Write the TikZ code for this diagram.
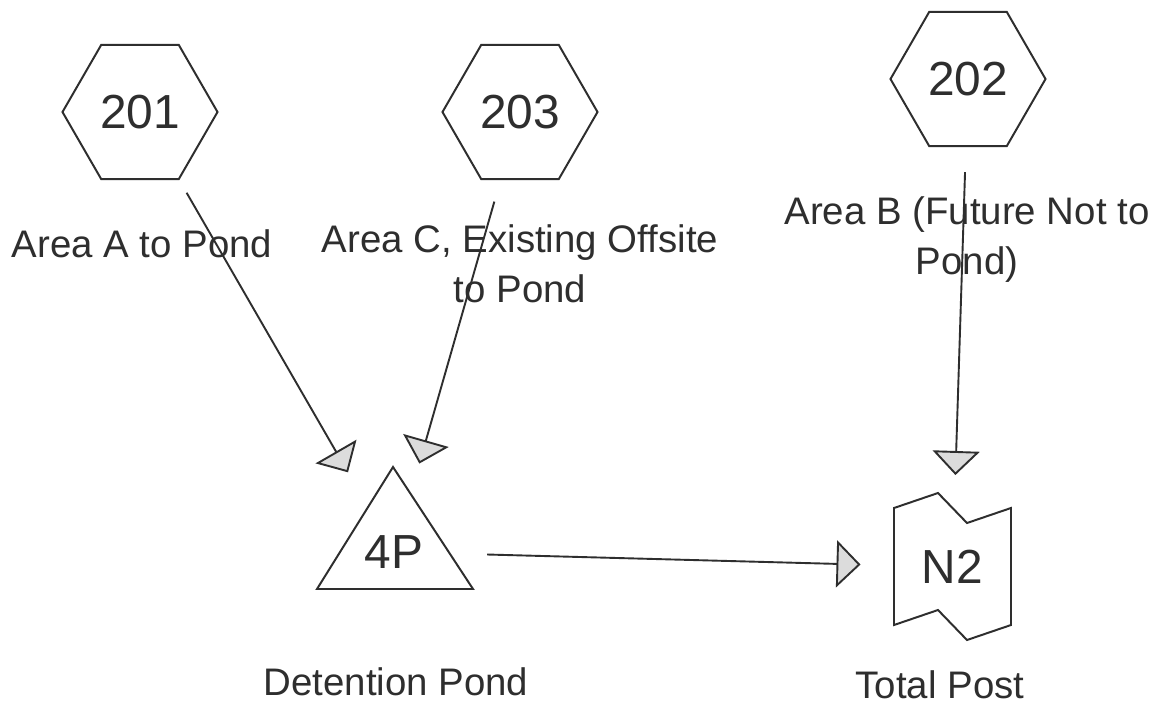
\documentclass[tikz,border=0pt]{standalone}
\usepackage{fontspec}
\setmainfont{Liberation Sans}
\usetikzlibrary{arrows.meta,shapes.geometric}
\definecolor{ink}{HTML}{2E2E2E}
\definecolor{tipgray}{HTML}{DCDCDC}
\begin{document}
\begin{tikzpicture}[x=0.025cm, y=-0.025cm,
  lbl/.style={font=\fontsize{27.3}{34.9}\selectfont, text=ink, inner sep=0pt, align=center},
  hexnode/.style={regular polygon, regular polygon sides=6, minimum size=3.875cm,
    draw=ink, line width=1.4pt, inner sep=0pt, text=ink, font=\fontsize{34}{40}\selectfont},
  idnode/.style={inner sep=0pt, text=ink, font=\fontsize{34}{40}\selectfont},
  outline/.style={draw=ink, line width=1.4pt, line join=miter},
  flow/.style={draw=ink, line width=1.35pt,
    -{Triangle[width=1.175cm, length=0.6cm, fill=tipgray]},
    shorten <=2.33cm, shorten >=2.3cm}]
  \fill[white] (0,0) rectangle (1166,719);
  \useasboundingbox (0,0) rectangle (1166,719);

  % subcatchments
  \node[hexnode] (s201) at (140,112) {201};
  \node[hexnode] (s203) at (520,112) {203};
  \node[hexnode] (s202) at (968,79) {202};

  % pond and reach
  \node[idnode] (p4) at (394,552) {4P};
  \draw[outline, shift={(p4.center)}] (-1,-85) -- (79,37) -- (-77,37) -- cycle;
  \node[idnode] (n2) at (952.5,567) {N2};
  \draw[outline, shift={(n2.center)}] (-58.5,-59) -- (-14.5,-74) -- (14.5,-44) -- (58.5,-59)
    -- (58.5,58) -- (14.5,73) -- (-14.5,43) -- (-58.5,58) -- cycle;

  % captions (multi-line captions are placed by the baseline of their last line)
  \node[lbl, anchor=base] (la) at (142,257) {Area A to Pond};
  \node[lbl, anchor=base] (lc) at (520,302) {Area C, Existing Offsite\\to Pond};
  \node[lbl, anchor=base] (lb) at (967,274) {Area B (Future Not to\\Pond)};
  \node[lbl, anchor=base] (ld) at (396,695) {Detention Pond};
  \node[lbl, anchor=base] (lt) at (940,698) {Total Post};

  % routing links
  \draw[flow] (s201.center) -- (p4.center);
  \draw[flow] (s203.center) -- (p4.center);
  \draw[flow] (s202.center) -- (n2.center);
  \draw[flow] (p4.center) -- (n2.center);
\end{tikzpicture}
\end{document}
